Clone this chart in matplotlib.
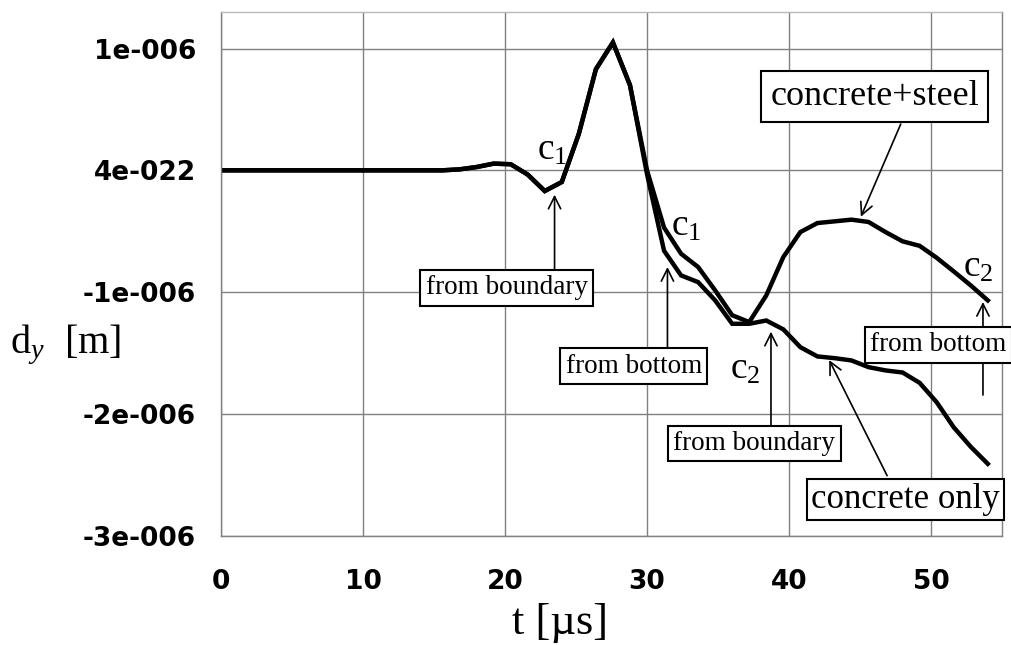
import matplotlib
matplotlib.use('Agg')
import matplotlib.pyplot as plt

# time axis in microseconds
t_common = [0.0, 1.2, 2.4, 3.6, 4.8, 6.0, 7.2, 8.4, 9.6, 10.8, 12.0, 13.2, 14.4,
            15.6, 16.8, 18.0, 19.2, 20.4, 21.6, 22.8, 24.0, 25.2, 26.4, 27.6,
            28.8, 30.0]
d_common = [0, 0, 0, 0, 0, 0, 0, 0, 0, 0, 0, 0, 0,
            0, 0.008, 0.027, 0.055, 0.05, -0.035, -0.17, -0.096, 0.30, 0.83, 1.05,
            0.70, 0.0]

t_late = [31.2, 32.4, 33.6, 34.8, 36.0, 37.2, 38.4, 39.6, 40.8, 42.0, 43.2, 44.4,
          45.6, 46.8, 48.0, 49.2, 50.4, 51.6, 52.8, 54.0]
# displacement in 1e-6 m
d_steel_late = [-0.47, -0.685, -0.794, -0.986, -1.19, -1.246, -1.027, -0.712,
                -0.507, -0.433, -0.419, -0.405, -0.424, -0.507, -0.583, -0.62,
                -0.718, -0.83, -0.945, -1.068]
d_conc_late = [-0.66, -0.863, -0.918, -1.068, -1.26, -1.26, -1.233, -1.306,
               -1.452, -1.528, -1.542, -1.561, -1.616, -1.643, -1.66, -1.745,
               -1.904, -2.11, -2.27, -2.41]

y_ticks = [1e-6, 0, -1e-6, -2e-6, -3e-6]
y_labels = ['1e-006', '4e-022', '-1e-006', '-2e-006', '-3e-006']
x_ticks = [0, 10, 20, 30, 40, 50]

plt.rcParams['mathtext.fontset'] = 'custom'
plt.rcParams['mathtext.rm'] = 'Liberation Serif'
plt.rcParams['mathtext.it'] = 'Liberation Serif:italic'

t_steel = t_common + t_late
t_conc = t_common + t_late
y_steel = [v * 1e-6 for v in d_common + d_steel_late]
y_conc = [v * 1e-6 for v in d_common[:-1] + [-0.03] + d_conc_late]

fig = plt.figure(figsize=(10.12, 6.45), dpi=100)
ax = fig.add_axes([221/1012, 1 - 535.7/645, 781/1012, 523.7/645])

ax.plot(t_conc, y_conc, color='black', lw=3.2, solid_joinstyle='miter')
ax.plot(t_steel, y_steel, color='black', lw=3.2, solid_joinstyle='miter')

ax.set_xlim(0, 55)
ax.set_ylim(-3e-6, 1.3e-6)
ax.set_xticks(x_ticks)
ax.set_yticks(y_ticks)
ax.set_yticklabels(y_labels)
ax.grid(True, color='#808080', lw=1)
ax.set_axisbelow(True)
for s in ax.spines.values():
    s.set_color('#808080')
    s.set_linewidth(1)
ax.spines['top'].set_color('#b8b8b8')
ax.tick_params(length=0, labelsize=19)
ax.tick_params(axis='y', pad=18)
ax.tick_params(axis='x', pad=24)
for lab in ax.get_xticklabels() + ax.get_yticklabels():
    lab.set_fontfamily('DejaVu Sans')
    lab.set_fontweight('bold')

serif = 'Liberation Serif'
fig.text(560/1012, 0.003, 't [µs]', family=serif, fontsize=32, ha='center', va='bottom')
fig.text(10/1012, 1 - 345/645, r'd$_{y}$  [m]', family=serif, fontsize=29, ha='left', va='center')

arrow = dict(arrowstyle='->', color='black', lw=1.2, mutation_scale=22, shrinkA=0, shrinkB=0)

def note(text, xy, xytext_arrow, center, size, pad):
    # arrow first, label box on top
    ax.annotate('', xy=xy, xytext=xytext_arrow, arrowprops=arrow, zorder=4)
    box = dict(boxstyle='square,pad=%g' % pad, fc='white', ec='black', lw=1.5)
    ax.text(center[0], center[1], text, family=serif, fontsize=size,
            ha='center', va='center', bbox=box, zorder=5, clip_on=False)

note('from boundary', (23.49, -0.20e-6), (23.49, -0.81e-6), (20.11, -0.966e-6), 19.5, 0.2)
note('from bottom', (31.44, -0.794e-6), (31.44, -1.49e-6), (29.08, -1.607e-6), 19.5, 0.2)
note('from boundary', (38.73, -1.325e-6), (38.73, -2.091e-6), (37.56, -2.243e-6), 19.5, 0.2)
note('from bottom', (53.66, -1.081e-6), (53.66, -1.845e-6), (50.5, -1.433e-6), 19.5, 0.2)
note('concrete+steel', (45.06, -0.381e-6), (47.87, 0.38e-6), (46.03, 0.606e-6), 26, 0.25)
note('concrete only', (42.83, -1.558e-6), (46.91, -2.507e-6), (48.18, -2.703e-6), 25, 0.12)

for x, y, sub in [(22.23, 0.084e-6, '1'), (31.72, -0.536e-6, '1'),
                  (35.87, -1.71e-6, '2'), (52.26, -0.876e-6, '2')]:
    ax.text(x, y, 'c$_{\\mathrm{' + sub + '}}$', family=serif, fontsize=27,
            ha='left', va='baseline', zorder=6)

fig.savefig('out.png', dpi=100)
